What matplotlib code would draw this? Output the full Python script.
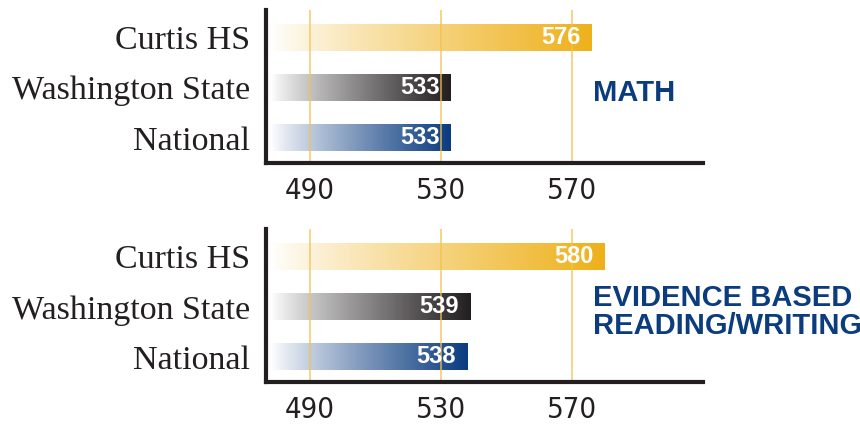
import numpy as np
import matplotlib
matplotlib.use("Agg")
import matplotlib.pyplot as plt
from matplotlib.colors import LinearSegmentedColormap
from matplotlib import font_manager

# datos del grafico
categorias = ["Curtis HS", "Washington State", "National"]
math_scores = [576, 533, 533]
ebrw_scores = [580, 539, 538]
titulos = ["MATH", "EVIDENCE BASED\nREADING/WRITING"]
ticks = [490, 530, 570]

colores = ["#EEB11C", "#231F20", "#0B3C80"]
azul_titulo = "#0B3C7D"
oro_grid = "#F7C04F"
negro = "#231F20"

X0 = 478          # donde empieza la barra
XLIM = (476.5, 610)

# fuente condensada para los ticks, si existe
fuente_ticks = None
for f in font_manager.fontManager.ttflist:
    if f.name == "DejaVu Sans" and "Condensed" in f.fname and "Bold" not in f.fname \
            and "Oblique" not in f.fname:
        fuente_ticks = font_manager.FontProperties(fname=f.fname, size=21)
        break
if fuente_ticks is None:
    fuente_ticks = font_manager.FontProperties(family="DejaVu Sans", size=20)


def dibujar_panel(ax, valores, titulo):
    """Dibuja un panel de barras horizontales con degrade"""
    posiciones = np.arange(len(categorias))[::-1]
    grad = np.linspace(0, 1, 256).reshape(1, -1) ** 0.85
    for pos, val, color in zip(posiciones, valores, colores):
        cmap = LinearSegmentedColormap.from_list("g", ["#FFFFFF", color])
        ax.imshow(grad, cmap=cmap, aspect="auto", interpolation="bicubic",
                  extent=(X0, val, pos - 0.26, pos + 0.26), zorder=1)
        ax.annotate(str(val), xy=(val, pos), xytext=(-8, 0), textcoords="offset points",
                    ha="right", va="center", color="white", fontsize=17,
                    fontweight="bold", family=["Liberation Sans", "DejaVu Sans"], zorder=3)

    # lineas guia por encima de las barras
    for t in ticks:
        ax.axvline(t, color=oro_grid, lw=1.1, alpha=0.85, zorder=2)

    ax.set_xlim(*XLIM)
    ax.set_ylim(-0.5, 2.55)
    ax.set_xticks(ticks)
    ax.set_xticklabels([str(t) for t in ticks], fontproperties=fuente_ticks, color=negro)
    ax.set_yticks(posiciones)
    ax.set_yticklabels(categorias, fontsize=24.5, family=["Liberation Serif", "DejaVu Serif"],
                       color=negro)
    ax.tick_params(axis="both", length=0)
    ax.tick_params(axis="x", pad=10)
    ax.tick_params(axis="y", pad=11)

    for s in ["top", "right"]:
        ax.spines[s].set_visible(False)
    for s in ["left", "bottom"]:
        ax.spines[s].set_linewidth(3)
        ax.spines[s].set_color(negro)
        ax.spines[s].set_zorder(4)

    ax.text(0.748, 0.46, titulo, transform=ax.transAxes, ha="left", va="center",
            fontsize=21, fontweight="bold", color=azul_titulo, linespacing=1.0,
            family=["Liberation Sans", "DejaVu Sans"])


fig = plt.figure(figsize=(8.6, 4.25), dpi=100)
ax1 = fig.add_axes([0.309, 0.6165, 0.508, 0.36])
ax2 = fig.add_axes([0.309, 0.101, 0.508, 0.36])
dibujar_panel(ax1, math_scores, titulos[0])
dibujar_panel(ax2, ebrw_scores, titulos[1])

plt.savefig("out.png", dpi=100)
